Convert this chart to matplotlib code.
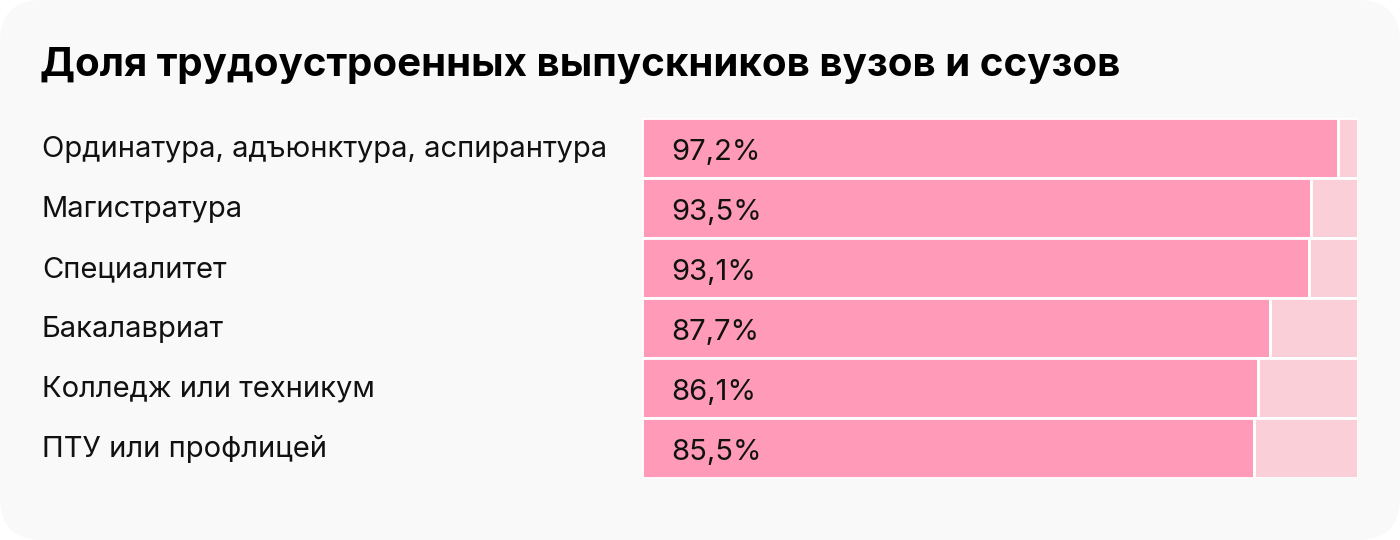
import matplotlib.pyplot as plt
from matplotlib.patches import FancyBboxPatch

categories = ['Ординатура, адъюнктура, аспирантура', 'Магистратура', 'Специалитет',
              'Бакалавриат', 'Колледж или техникум', 'ПТУ или профлицей']
values = [97.2, 93.5, 93.1, 87.7, 86.1, 85.5]
value_labels = ['97,2%', '93,5%', '93,1%', '87,7%', '86,1%', '85,5%']
title = 'Доля трудоустроенных выпускников вузов и ссузов'

plt.rcParams['font.family'] = ['Inter', 'DejaVu Sans']

W, H = 1400, 540
fig = plt.figure(figsize=(W / 100, H / 100), dpi=100, facecolor='white')

# rounded light background card, kept under the axes
bg = FancyBboxPatch((0, 0), 1, 1, boxstyle='round,pad=0,rounding_size=0.03',
                    transform=fig.transFigure, facecolor='#f9f9f9', edgecolor='none',
                    mutation_aspect=W / H, zorder=-5)
fig.patches.append(bg)

fig.text(40 / W, 1 - 76 / H, title, fontsize=29, fontweight='bold', color='black', va='baseline')

ax = fig.add_axes([642 / W, 1 - 478 / H, 716 / W, 360 / H])
ax.set_facecolor('none')
y = list(range(len(categories)))
ax.barh(y, values, height=1.0, color='#ff9bb8', edgecolor='white', linewidth=2)
ax.barh(y, [100 - v for v in values], left=values, height=1.0, color='#fbcfd8',
        edgecolor='white', linewidth=2)
ax.set_xlim(0, 100)
ax.set_ylim(len(categories) - 0.5, -0.5)
ax.axis('off')

for i, (cat, lab) in enumerate(zip(categories, value_labels)):
    fig.text(671 / W, 1 - (160 + 60 * i) / H, lab, fontsize=21, va='baseline', ha='left',
             color='#111111')
    fig.text(42 / W, 1 - (157 + 60 * i) / H, cat, fontsize=21, va='baseline', ha='left',
             color='#111111')

fig.savefig('out.png', dpi=100, facecolor='white')
